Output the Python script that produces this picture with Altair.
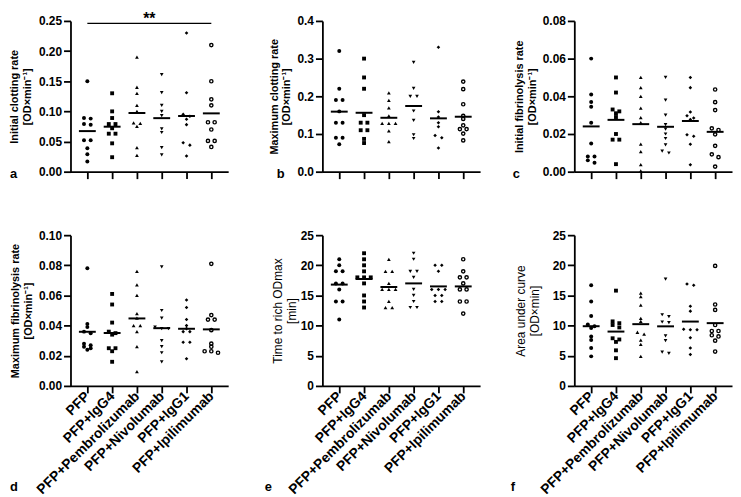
import json
import numpy as np
import pandas as pd
import altair as alt

FONT = "Liberation Sans"

groups = ["PFP", "PFP+IgG4", "PFP+Pembrolizumab", "PFP+Nivolumab", "PFP+IgG1", "PFP+Ipilimumab"]

# a: Initial clotting rate
a_pfp = [0.150, 0.089, 0.088, 0.079, 0.078, 0.052, 0.052, 0.039, 0.029, 0.017]
a_igg4 = [0.130, 0.100, 0.089, 0.079, 0.079, 0.072, 0.063, 0.063, 0.047, 0.024]
a_pembro = [0.190, 0.140, 0.130, 0.110, 0.100, 0.081, 0.080, 0.075, 0.040, 0.027]
a_nivo = [0.161, 0.131, 0.110, 0.100, 0.093, 0.071, 0.065, 0.040, 0.028]
a_igg1 = [0.230, 0.131, 0.095, 0.092, 0.087, 0.078, 0.048, 0.044, 0.026]
a_ipi = [0.210, 0.150, 0.120, 0.110, 0.082, 0.082, 0.070, 0.051, 0.051, 0.041]
a_ticks = [0, 0.05, 0.10, 0.15, 0.20, 0.25]

# b: Maximum clotting rate
b_pfp = [0.320, 0.220, 0.190, 0.190, 0.160, 0.130, 0.130, 0.090, 0.090, 0.073]
b_igg4 = [0.300, 0.250, 0.220, 0.150, 0.130, 0.130, 0.110, 0.110, 0.087, 0.076]
b_pembro = [0.209, 0.189, 0.169, 0.148, 0.128, 0.128, 0.128, 0.108, 0.080]
b_nivo = [0.290, 0.221, 0.200, 0.200, 0.161, 0.136, 0.098, 0.088]
b_igg1 = [0.330, 0.159, 0.145, 0.130, 0.119, 0.096, 0.090, 0.063]
b_ipi = [0.239, 0.219, 0.179, 0.148, 0.140, 0.123, 0.113, 0.113, 0.101, 0.083]
b_ticks = [0, 0.1, 0.2, 0.3, 0.4]

# c: Initial fibrinolysis rate
c_pfp = [0.060, 0.041, 0.037, 0.0345, 0.026, 0.015, 0.008, 0.008, 0.006, 0.0047]
c_igg4 = [0.050, 0.042, 0.033, 0.032, 0.031, 0.029, 0.020, 0.017, 0.017, 0.004]
c_pembro = [0.050, 0.0446, 0.040, 0.0337, 0.0287, 0.026, 0.0146, 0.0106, 0.0037, 0.0004]
c_nivo = [0.050, 0.038, 0.030, 0.025, 0.0226, 0.020, 0.0176, 0.0142, 0.0109, 0.0099]
c_igg1 = [0.050, 0.0446, 0.0317, 0.0297, 0.0285, 0.0277, 0.0196, 0.0188, 0.0146, 0.0037]
c_ipi = [0.0436, 0.0369, 0.0327, 0.023, 0.0221, 0.0198, 0.0137, 0.0092, 0.0077, 0.0027]
c_ticks = [0, 0.02, 0.04, 0.06, 0.08]

# d: Maximum fibrinolysis rate
d_pfp = [0.078, 0.041, 0.039, 0.036, 0.035, 0.028, 0.027, 0.026, 0.025, 0.024]
d_igg4 = [0.061, 0.054, 0.042, 0.036, 0.035, 0.034, 0.025, 0.025, 0.023, 0.016]
d_pembro = [0.076, 0.067, 0.060, 0.048, 0.045, 0.040, 0.040, 0.036, 0.026, 0.0095]
d_nivo = [0.079, 0.050, 0.045, 0.039, 0.038, 0.038, 0.030, 0.026, 0.022, 0.016]
d_igg1 = [0.057, 0.052, 0.044, 0.040, 0.038, 0.036, 0.036, 0.029, 0.029, 0.018]
d_ipi = [0.081, 0.047, 0.044, 0.044, 0.037, 0.028, 0.026, 0.023, 0.023, 0.022]
d_ticks = [0, 0.02, 0.04, 0.06, 0.08, 0.10]

# e: Time to rich ODmax
e_pfp = [21, 20, 19, 19, 17, 17, 16, 14, 14, 11]
e_igg4 = [22, 21, 20, 19, 18, 18, 18, 17, 15, 14, 13]
e_pembro = [21, 19, 19, 17, 16, 16, 16, 14, 13, 13]
e_nivo = [22, 21, 19, 19, 18, 16, 15, 14, 13, 13]
e_igg1 = [20, 20, 19, 16, 16, 16, 15, 15, 14, 14]
e_ipi = [21, 19, 18, 18, 17, 16, 16, 14, 14, 12]
e_ticks = [0, 5, 10, 15, 20, 25]

# f: Area under curve
f_pfp = [16.7, 14.0, 11.6, 10.2, 9.9, 9.6, 8.2, 7.6, 6.3, 4.9]
f_igg4 = [15.8, 10.7, 10.4, 10.1, 9.7, 7.9, 7.7, 7.3, 5.9, 4.6]
f_pembro = [15.4, 14.8, 13.4, 11.2, 10.7, 8.9, 8.6, 7.6, 6.9, 4.9]
f_nivo = [17.7, 11.8, 11.5, 10.6, 10.5, 8.3, 7.5, 5.6, 5.4]
f_igg1 = [16.9, 16.7, 13.2, 12.4, 9.4, 9.3, 9.3, 8.0, 6.3, 5.2]
f_ipi = [19.9, 13.5, 12.6, 10.1, 9.1, 9.1, 8.4, 8.2, 7.5, 5.7]
f_ticks = [0, 5, 10, 15, 20, 25]

# significance bracket in panel a
sig_from = [0]
sig_to = [5]
sig_y = [0.246]
sig_label = ["**"]

W, H = 159, 152
PAD = 0.68
SUP = "[OD\u00d7min\u207b\u00b9]"

panels = [
    dict(letter="a", series=[a_pfp, a_igg4, a_pembro, a_nivo, a_igg1, a_ipi], ymax=0.25, ticks=a_ticks,
         fmt=".2f", title=["Initial clotting rate", SUP], bold=True, tpad=6, ldx=-61, bottom=False, sig=True),
    dict(letter="b", series=[b_pfp, b_igg4, b_pembro, b_nivo, b_igg1, b_ipi], ymax=0.4, ticks=b_ticks,
         fmt=".1f", title=["Maximum clotting rate", SUP], bold=True, tpad=5, ldx=-46, bottom=False, sig=False),
    dict(letter="c", series=[c_pfp, c_igg4, c_pembro, c_nivo, c_igg1, c_ipi], ymax=0.08, ticks=c_ticks,
         fmt=".2f", title=["Initial fibrinolysis rate", SUP], bold=True, tpad=5, ldx=-62, bottom=False, sig=False),
    dict(letter="d", series=[d_pfp, d_igg4, d_pembro, d_nivo, d_igg1, d_ipi], ymax=0.10, ticks=d_ticks,
         fmt=".2f", title=["Maximum fibrinolysis rate", SUP], bold=True, tpad=5, ldx=-61, bottom=True, sig=False),
    dict(letter="e", series=[e_pfp, e_igg4, e_pembro, e_nivo, e_igg1, e_ipi], ymax=25, ticks=e_ticks,
         fmt="d", title=["Time to rich ODmax", "[min]"], bold=False, tpad=2, ldx=-58, bottom=True, sig=False),
    dict(letter="f", series=[f_pfp, f_igg4, f_pembro, f_nivo, f_igg1, f_ipi], ymax=25, ticks=f_ticks,
         fmt="d", title=["Area under curve", "[OD\u00d7min]"], bold=False, tpad=11, ldx=-64, bottom=True, sig=False),
]


def swarm(vals, px_per_unit, thresh_px=3.0, step=0.27):
    """Spread near-equal values sideways (layout only, values unchanged)."""
    vals = np.asarray(vals, dtype=float)
    order = np.argsort(-vals, kind="stable")
    offs = np.zeros(len(vals))
    clusters, cur, start = [], [], None
    for i in order:
        v = vals[i]
        if cur and (start - v) * px_per_unit < thresh_px:
            cur.append(i)
        else:
            if cur:
                clusters.append(cur)
            cur, start = [i], v
    if cur:
        clusters.append(cur)
    for c in clusters:
        n = len(c)
        for k, i in enumerate(c):
            offs[i] = (k - (n - 1) / 2) * step
    return offs


label_expr = json.dumps(groups) + "[datum.value]"


def make_panel(cfg):
    rows = []
    for gi, vals in enumerate(cfg["series"]):
        offs = swarm(vals, H / cfg["ymax"])
        for v, o in zip(vals, offs):
            rows.append({"idx": gi, "grp": groups[gi], "value": v, "xj": gi + o})
    df = pd.DataFrame(rows)

    xscale = alt.Scale(domain=[-PAD, 5 + PAD], nice=False, zero=False)
    yscale = alt.Scale(domain=[0, cfg["ymax"]], nice=False, zero=True)
    xaxis = alt.Axis(values=list(range(len(groups))), labelExpr=label_expr, labels=cfg["bottom"],
                     title=None, labelAngle=315, labelAlign="right", labelBaseline="middle",
                     labelFontSize=14, labelPadding=1,
                     labelOverlap=False, labelFlush=False, grid=False)
    yaxis = alt.Axis(values=cfg["ticks"], format=cfg["fmt"], title=cfg["title"],
                     titleFontWeight="bold" if cfg["bold"] else "normal",
                     titleFontSize=11 if cfg["bold"] else 12,
                     titleLineHeight=13 if cfg["bold"] else 14,
                     titlePadding=cfg["tpad"], grid=False, labelOverlap=False, labelFlush=False)

    base = alt.Chart(df)
    means = base.transform_aggregate(m="mean(value)", groupby=["idx"]).transform_calculate(
        x1="datum.idx - 0.34", x2="datum.idx + 0.34"
    ).mark_rule(color="black", strokeWidth=2).encode(
        x=alt.X("x1:Q", scale=xscale, axis=xaxis),
        x2="x2:Q",
        y=alt.Y("m:Q", scale=yscale, axis=yaxis),
    )
    filled = base.transform_filter("datum.idx < 5").mark_point(
        filled=True, opacity=1, color="black", strokeWidth=0
    ).encode(
        x=alt.X("xj:Q", scale=xscale, axis=xaxis),
        y=alt.Y("value:Q", scale=yscale, axis=yaxis),
        shape=alt.Shape("grp:N", scale=alt.Scale(domain=groups[:5],
                        range=["circle", "square", "triangle-up", "triangle-down", "diamond"]), legend=None),
        size=alt.Size("grp:N", scale=alt.Scale(domain=groups[:5], range=[16, 13, 20, 20, 16]), legend=None),
    )
    hollow = base.transform_filter("datum.idx == 5").mark_point(
        filled=False, opacity=1, color="black", strokeWidth=1.4, size=11, shape="circle"
    ).encode(
        x=alt.X("xj:Q", scale=xscale, axis=xaxis),
        y=alt.Y("value:Q", scale=yscale, axis=yaxis),
    )
    letter = alt.Chart(pd.DataFrame({"t": [cfg["letter"]]})).mark_text(
        font=FONT, fontSize=13, fontWeight="bold", align="left", baseline="alphabetic", color="black"
    ).encode(
        text="t:N",
        x=alt.value(cfg["ldx"]),
        y=alt.value(H + (106 if cfg["bottom"] else 6)),
    )
    layers = [means, filled, hollow, letter]
    if cfg["sig"]:
        sdf = pd.DataFrame({"x1": sig_from, "x2": sig_to, "y": sig_y, "label": sig_label})
        sdf["xm"] = (sdf["x1"] + sdf["x2"]) / 2
        sbase = alt.Chart(sdf)
        layers.append(sbase.mark_rule(color="black", strokeWidth=1.2).encode(
            x=alt.X("x1:Q", scale=xscale, axis=xaxis), x2="x2:Q",
            y=alt.Y("y:Q", scale=yscale, axis=yaxis)))
        layers.append(sbase.mark_text(font=FONT, fontSize=16, fontWeight="bold", baseline="alphabetic",
                                      dy=1, color="black").encode(
            x=alt.X("xm:Q", scale=xscale, axis=xaxis),
            y=alt.Y("y:Q", scale=yscale, axis=yaxis), text="label:N"))
    return alt.layer(*layers).properties(width=W, height=H)


charts = [make_panel(p) for p in panels]

chart = alt.concat(*charts, columns=3, spacing={"row": 64, "column": 95}, bounds="flush").properties(
    padding=0
).configure(font=FONT).configure_view(stroke="transparent").configure_axis(
    domainColor="black", domainWidth=1.8, tickColor="black", tickWidth=1.8, tickSize=7,
    labelColor="black", labelFont=FONT, labelFontSize=12, labelFontWeight="bold", labelPadding=2,
    titleColor="black", titleFont=FONT,
)

chart.save("out.html", embed_options={"renderer": "svg", "actions": False})
